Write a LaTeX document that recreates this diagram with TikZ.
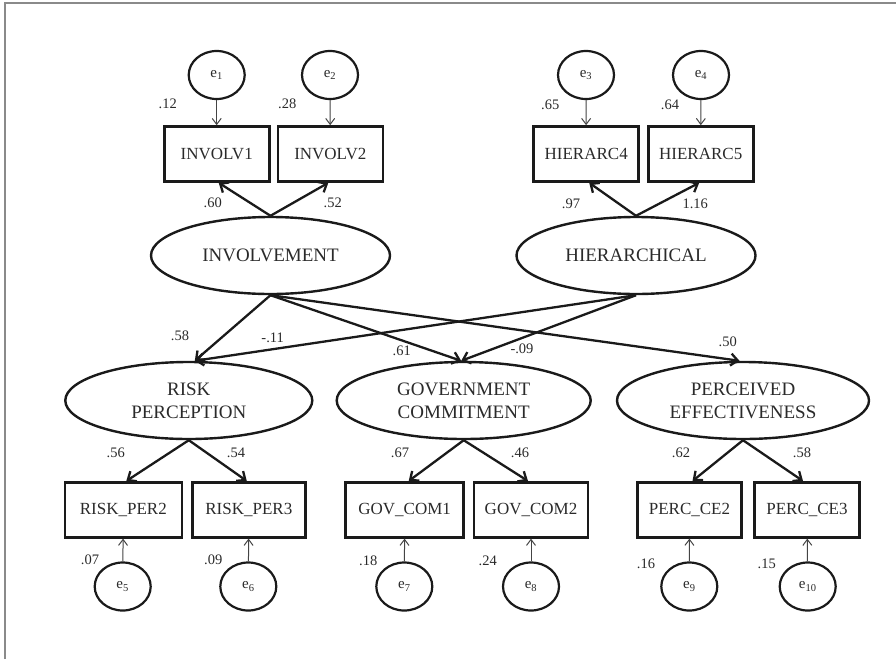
\documentclass[tikz,border=0pt]{standalone}
\usepackage{fontspec}
\setmainfont{Liberation Serif}
\usetikzlibrary{shapes.geometric,arrows.meta}
\definecolor{linec}{HTML}{1A1A1A}
\definecolor{textc}{HTML}{2A2A2A}
\definecolor{thinc}{HTML}{444444}
\definecolor{framec}{HTML}{8A8A8A}
\begin{document}
\begin{tikzpicture}[x=1pt,y=-1pt,
 latent/.style={ellipse,draw=linec,line width=2.4pt,minimum height=77pt,inner sep=0pt,align=center,font=\fontsize{19}{23}\selectfont,text=textc},
 obs/.style={rectangle,draw=linec,line width=2.6pt,minimum height=55pt,inner sep=0pt,font=\fontsize{17}{20}\selectfont,text=textc},
 err/.style={ellipse,draw=linec,line width=2.2pt,minimum width=56pt,minimum height=48pt,inner sep=0pt,font=\fontsize{15}{18}\selectfont,text=textc},
 lab/.style={inner sep=0pt,font=\fontsize{14.5}{17}\selectfont,text=textc},
 thickarr/.style={draw=linec,line width=2.3pt,-{Straight Barb[length=7pt,width=12pt]}},
 thinarr/.style={draw=thinc,line width=1pt,-{Straight Barb[length=6pt,width=9pt]}},
]
\useasboundingbox (0,0) rectangle (896,659);
\draw[framec,line width=1.5pt] (5,659) -- (5,3) -- (896,3);

% latent variables
\node[latent,minimum width=239pt] (inv) at (270.5,255.5) {INVOLVEMENT};
\node[latent,minimum width=239pt] (hier) at (636,255.5) {HIERARCHICAL};
\node[latent,minimum width=247pt] (risk) at (188.8,400.5) {RISK\\PERCEPTION};
\node[latent,minimum width=254pt] (gov) at (463.7,400.5) {GOVERNMENT\\COMMITMENT};
\node[latent,minimum width=252pt] (perc) at (743,400.5) {PERCEIVED\\EFFECTIVENESS};

% observed variables
\node[obs,minimum width=105pt] (i1) at (216.7,154) {INVOLV1};
\node[obs,minimum width=105pt] (i2) at (330.3,154) {INVOLV2};
\node[obs,minimum width=105pt] (h4) at (586.2,154) {HIERARC4};
\node[obs,minimum width=105pt] (h5) at (700.7,154) {HIERARC5};
\node[obs,minimum width=117pt] (rp2) at (123.3,509.8) {RISK\_PER2};
\node[obs,minimum width=113pt] (rp3) at (248.8,509.8) {RISK\_PER3};
\node[obs,minimum width=118pt] (gc1) at (404.7,509.8) {GOV\_COM1};
\node[obs,minimum width=114pt] (gc2) at (531,509.8) {GOV\_COM2};
\node[obs,minimum width=104pt] (pc2) at (689.5,509.8) {PERC\_CE2};
\node[obs,minimum width=105pt] (pc3) at (807,509.8) {PERC\_CE3};

% errors
\node[err] (e1) at (216.7,75) {e\textsubscript{1}};
\node[err] (e2) at (330,75) {e\textsubscript{2}};
\node[err] (e3) at (586,75) {e\textsubscript{3}};
\node[err] (e4) at (701,75) {e\textsubscript{4}};
\node[err] (e5) at (122.7,586.5) {e\textsubscript{5}};
\node[err] (e6) at (248.3,586.5) {e\textsubscript{6}};
\node[err] (e7) at (404.3,586.5) {e\textsubscript{7}};
\node[err] (e8) at (531,586.5) {e\textsubscript{8}};
\node[err] (e9) at (689.3,586.5) {e\textsubscript{9}};
\node[err] (e10) at (807.7,586.5) {e\textsubscript{10}};

% error arrows
\draw[thinarr] (e1) -- (i1);
\draw[thinarr] (e2) -- (i2);
\draw[thinarr] (e3) -- (h4);
\draw[thinarr] (e4) -- (h5);
\draw[thinarr] (e5) -- (rp2);
\draw[thinarr] (e6) -- (rp3);
\draw[thinarr] (e7) -- (gc1);
\draw[thinarr] (e8) -- (gc2);
\draw[thinarr] (e9) -- (pc2);
\draw[thinarr] (e10) -- (pc3);

% loadings
\draw[thickarr] (inv.north) -- ([xshift=2pt]i1.south);
\draw[thickarr] (inv.north) -- ([xshift=-2pt]i2.south);
\draw[thickarr] (hier.north) -- ([xshift=3pt]h4.south);
\draw[thickarr] (hier.north) -- ([xshift=-1.5pt]h5.south);
\draw[thickarr] (risk.south) -- ([xshift=3pt]rp2.north);
\draw[thickarr] (risk.south) -- ([xshift=-2pt]rp3.north);
\draw[thickarr] (gov.south) -- ([xshift=4pt]gc1.north);
\draw[thickarr] (gov.south) -- ([xshift=-3pt]gc2.north);
\draw[thickarr] (perc.south) -- ([xshift=3pt]pc2.north);
\draw[thickarr] (perc.south) -- ([xshift=-4pt]pc3.north);

% structural paths
\draw[thickarr] (inv.south) -- ([xshift=6pt]risk.north);
\draw[thickarr] (inv.south) -- ([xshift=-2.5pt]gov.north);
\draw[thickarr] (inv.south) -- ([xshift=-3.5pt]perc.north);
\draw[thickarr] (hier.south) -- ([xshift=6pt]risk.north);
\draw[thickarr] (hier.south) -- ([xshift=-2.5pt]gov.north);

% labels
\node[lab] (l1) at (167.7,103.7) {.12};
\node[lab] (l2) at (287.3,103.7) {.28};
\node[lab] (l3) at (550.3,105) {.65};
\node[lab] (l4) at (670,105) {.64};
\node[lab] (l5) at (212.7,203) {.60};
\node[lab] (l6) at (332.7,203) {.52};
\node[lab] (l7) at (571,203.7) {.97};
\node[lab] (l8) at (695.3,203.7) {1.16};
\node[lab] (l9) at (180,336) {.58};
\node[lab] (l10) at (272.7,338.3) {-.11};
\node[lab] (l11) at (401.7,350.7) {.61};
\node[lab] (l12) at (522,348.3) {-.09};
\node[lab] (l13) at (727.7,341.7) {.50};
\node[lab] (l14) at (115.7,452.7) {.56};
\node[lab] (l15) at (236,452.7) {.54};
\node[lab] (l16) at (400,452.7) {.67};
\node[lab] (l17) at (520,453) {.46};
\node[lab] (l18) at (681,453) {.62};
\node[lab] (l19) at (802,453) {.58};
\node[lab] (l20) at (90,559.3) {.07};
\node[lab] (l21) at (213.3,559.3) {.09};
\node[lab] (l22) at (368.3,560.7) {.18};
\node[lab] (l23) at (487.7,561) {.24};
\node[lab] (l24) at (646,563.7) {.16};
\node[lab] (l25) at (766.7,563.7) {.15};
\end{tikzpicture}
\end{document}
